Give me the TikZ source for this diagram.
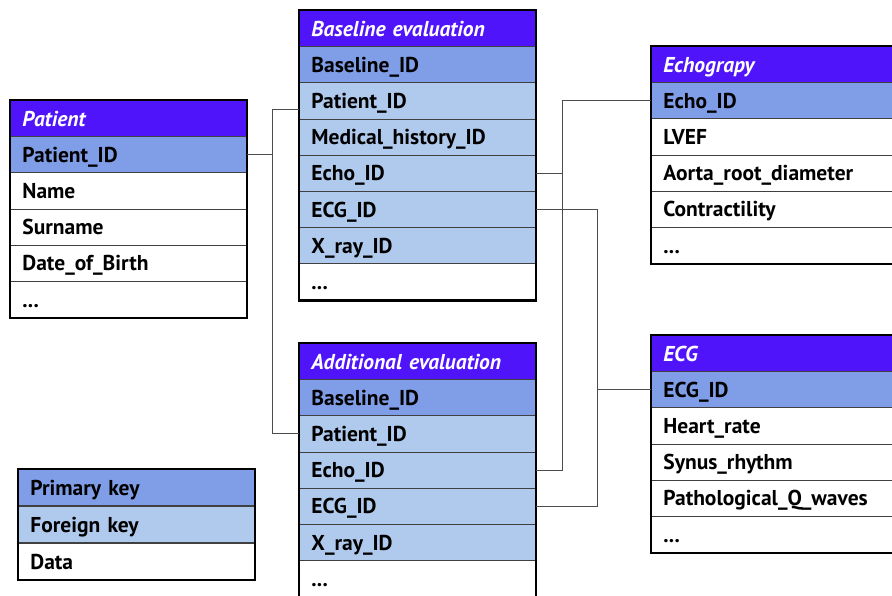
\documentclass[tikz,border=0pt]{standalone}
\usepackage{fontspec}
\setmainfont{PT Sans}
\usetikzlibrary{positioning,calc}
\definecolor{headcol}{RGB}{80,20,250}
\definecolor{pkcol}{RGB}{128,158,232}
\definecolor{fkcol}{RGB}{176,202,238}
\newcommand{\moredots}{...}
\tikzset{
	cell/.style={draw=black!75,line width=0.8pt,anchor=north west,
		minimum height=36.2pt,inner xsep=12pt,inner ysep=0pt,
		text height=18pt,text depth=3pt,
		text width=212pt,align=left,
		font=\fontsize{21.5}{24}\selectfont\bfseries},
	head/.style={cell,fill=headcol,text=white,
		font=\fontsize{21.5}{24}\selectfont\bfseries\itshape},
	pkey/.style={cell,fill=pkcol},
	fkey/.style={cell,fill=fkcol},
	datarow/.style={cell,fill=white},
	frame/.style={line width=2.6pt,black},
	link/.style={black!70,line width=1pt}
}

\begin{document}
\begin{tikzpicture}[x=1pt,y=-1pt]
	
	\useasboundingbox (0,0) rectangle (892,595);
	\clip (0,0) rectangle (892,595);
	
	% Patient
	\node[head] (pat0) at (10,100) {Patient};
	\foreach \s/\lbl [count=\i] in {pkey/Patient\_ID,datarow/Name,datarow/Surname,datarow/Date\_of\_Birth,datarow/\moredots}
	{
		\node[\s] (pat\i) at (10,100+36.2*\i) {\lbl};
	}
	\draw[frame] (pat0.north west) rectangle (pat5.south east);
	
	% Baseline evaluation
	\node[head] (bas0) at (299,10) {Baseline evaluation};
	\foreach \s/\lbl [count=\i] in {pkey/Baseline\_ID,fkey/Patient\_ID,fkey/Medical\_history\_ID,fkey/Echo\_ID,fkey/ECG\_ID,fkey/X\_ray\_ID,datarow/\moredots}
	{
		\node[\s] (bas\i) at (299,10+36.2*\i) {\lbl};
	}
	\draw[frame] (bas0.north west) rectangle (bas7.south east);
	
	% Additional evaluation
	\node[head] (add0) at (299,343) {Additional evaluation};
	\foreach \s/\lbl [count=\i] in {pkey/Baseline\_ID,fkey/Patient\_ID,fkey/Echo\_ID,fkey/ECG\_ID,fkey/X\_ray\_ID,datarow/\moredots}
	{
		\node[\s] (add\i) at (299,343+36.2*\i) {\lbl};
	}
	\draw[frame] (add0.north west) rectangle (add6.south east);
	
	% Echograpy
	\node[head,text width=250pt] (echo0) at (651,46) {Echograpy};
	\foreach \s/\lbl [count=\i] in {pkey/Echo\_ID,datarow/LVEF,datarow/Aorta\_root\_diameter,datarow/Contractility,datarow/\moredots}
	{
		\node[\s,text width=250pt] (echo\i) at (651,46+36.2*\i) {\lbl};
	}
	\draw[frame] (echo0.north west) rectangle (echo5.south east);
	
	% ECG
	\node[head,text width=250pt] (ecg0) at (651,335) {ECG};
	\foreach \s/\lbl [count=\i] in {pkey/ECG\_ID,datarow/Heart\_rate,datarow/Synus\_rhythm,datarow/Pathological\_Q\_waves,datarow/\moredots}
	{
		\node[\s,text width=250pt] (ecg\i) at (651,335+36.2*\i) {\lbl};
	}
	\draw[frame] (ecg0.north west) rectangle (ecg5.south east);
	
	% Legend
	\node[pkey] (key1) at (18,469) {Primary key};
	\node[fkey,below=0pt of key1] (key2) {Foreign key};
	\node[datarow,below=0pt of key2] (key3) {Data};
	\draw[frame] (key1.north west) rectangle (key3.south east);
	
	% Links
	\coordinate (jogA) at (272,0);
	\coordinate (jogB) at (562,0);
	\coordinate (jogC) at (597,0);
	
	\draw[link] (pat1.east) -- (pat1.east -| jogA) |- ([yshift=-9pt]bas2.west);
	\draw[link] (pat1.east -| jogA) |- (add2.west);
	
	\draw[link] (echo1.west) -- (echo1.west -| jogB) -- (add3.east -| jogB) -- (add3.east);
	\draw[link] (bas4.east) -- (bas4.east -| jogB);
	
	\draw[link] (bas5.east) -- (bas5.east -| jogC) -- (add4.east -| jogC) -- (add4.east);
	\draw[link] (ecg1.west) -- (ecg1.west -| jogC);
	
\end{tikzpicture}
\end{document}
